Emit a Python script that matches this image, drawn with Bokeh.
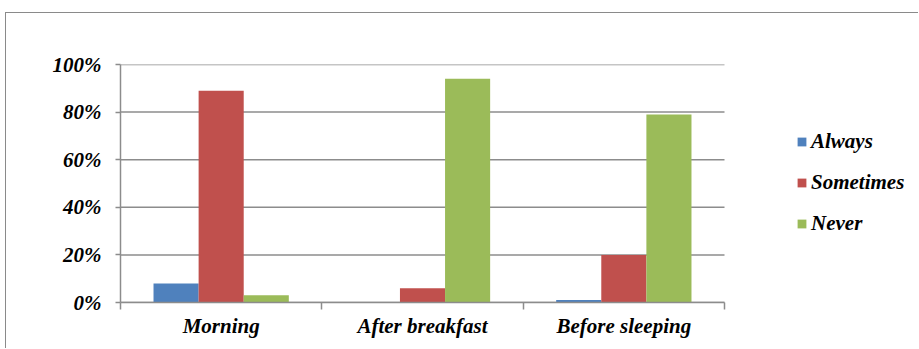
from bokeh.plotting import figure
from bokeh.models import (Range1d, FixedTicker, NumeralTickFormatter, Legend, LegendItem,
                          ColumnDataSource)
from bokeh.embed import file_html
from bokeh.resources import INLINE

# Share of respondents per time of day
categories = ["Morning", "After breakfast", "Before sleeping"]
series = ["Always", "Sometimes", "Never"]
always = [0.08, 0.00, 0.01]
sometimes = [0.89, 0.06, 0.20]
never = [0.03, 0.94, 0.79]
colors = ["#4F81BD", "#C0504D", "#9BBB59"]
y_ticks = [0, 0.2, 0.4, 0.6, 0.8, 1.0]

FONT = "Liberation Serif"
GRID = "#8c8c8c"
FS = "21px"

# Layout in pixels: the bar area is 604 px wide, the frame continues to the
# right so the legend can live inside it without being clipped.
W, H = 913, 336
LEFT, RIGHT, TOP, BOTTOM = 114, 13, 51, 47
BAR_AREA = 604
n = len(categories)
x_end = n * (W - LEFT - RIGHT) / BAR_AREA

# The chart sits inside a thin grey box open to the right and bottom
p = figure(width=W, height=H, output_backend="svg", toolbar_location=None,
           x_range=Range1d(0, x_end), y_range=Range1d(0, 1),
           min_border_left=LEFT, min_border_right=RIGHT, min_border_top=TOP,
           min_border_bottom=BOTTOM,
           margin=(12, 0, 0, 5),
           styles={"border-left": "1px solid #8a8a8a", "border-top": "1px solid #8a8a8a"})
p.outline_line_color = None
p.background_fill_color = "white"
p.border_fill_color = "white"

# Horizontal gridlines across the bar area only
p.xgrid.visible = False
p.ygrid.visible = False
p.segment(x0=[0] * len(y_ticks), x1=[n] * len(y_ticks), y0=y_ticks, y1=y_ticks,
          line_color=GRID, line_width=1.5, level="underlay")

# Grouped bars: three series side by side inside each category slot
bar_w = 0.224
offsets = [-bar_w, 0.0, bar_w]
renderers = []
for vals, off, col in zip([always, sometimes, never], offsets, colors):
    src = ColumnDataSource(dict(x=[i + 0.5 + off for i in range(n)], top=vals))
    r = p.vbar(x="x", top="top", bottom=0, width=bar_w, source=src,
               fill_color=col, line_color=None)
    renderers.append(r)

# X axis: labels at slot centres, tick marks at slot boundaries
xa = p.xaxis[0]
xa.bounds = (0, n)
xa.ticker = FixedTicker(ticks=[i + 0.5 for i in range(n)], minor_ticks=list(range(n + 1)))
xa.major_label_overrides = {i + 0.5: c for i, c in enumerate(categories)}
xa.major_tick_out = 0
xa.major_tick_in = 0
xa.minor_tick_out = 7
xa.minor_tick_in = 0
xa.minor_tick_line_color = GRID
xa.minor_tick_line_width = 1.5
xa.axis_line_color = GRID
xa.axis_line_width = 1.5
xa.major_label_standoff = 4
xa.major_label_text_font = FONT
xa.major_label_text_font_size = FS
xa.major_label_text_font_style = "bold italic"
xa.major_label_text_color = "black"

# Y axis in percent
ya = p.yaxis[0]
ya.ticker = FixedTicker(ticks=y_ticks, minor_ticks=[])
ya.formatter = NumeralTickFormatter(format="0%")
ya.major_tick_out = 5
ya.major_tick_in = 0
ya.major_tick_line_color = GRID
ya.major_tick_line_width = 1.5
ya.axis_line_color = GRID
ya.axis_line_width = 1.5
ya.major_label_standoff = 14
ya.major_label_text_font = FONT
ya.major_label_text_font_size = FS
ya.major_label_text_font_style = "bold italic"
ya.major_label_text_color = "black"

# Legend to the right of the bars
legend = Legend(items=[LegendItem(label=s, renderers=[r]) for s, r in zip(series, renderers)],
                location=(676, 66), orientation="vertical")
legend.label_text_font = FONT
legend.label_text_font_size = FS
legend.label_text_font_style = "bold italic"
legend.label_text_color = "black"
legend.glyph_width = 11
legend.glyph_height = 11
legend.label_height = 24
legend.label_standoff = 4
legend.spacing = 16
legend.padding = 0
legend.margin = 0
legend.border_line_color = None
legend.background_fill_alpha = 0
p.add_layout(legend, "center")

open("out.html", "w").write(file_html(p, INLINE))
